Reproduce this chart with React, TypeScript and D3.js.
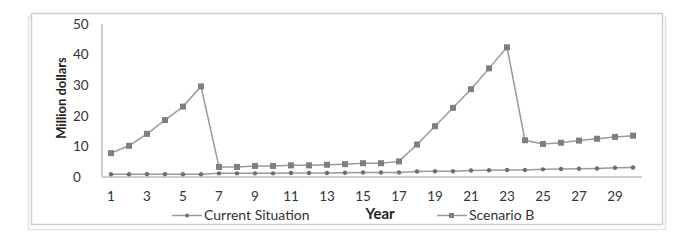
import React, { useEffect, useRef } from 'react';
import * as d3 from 'd3';

const years = d3.range(1, 31);
const currentSituation = [0.9, 0.9, 0.9, 0.9, 0.9, 0.9, 1.2, 1.2, 1.2, 1.2, 1.3, 1.3, 1.3, 1.4, 1.5,
  1.5, 1.5, 1.8, 1.9, 1.9, 2.1, 2.2, 2.3, 2.3, 2.5, 2.6, 2.7, 2.8, 3.0, 3.1];
const scenarioB = [7.8, 10.2, 14.1, 18.6, 23.0, 29.6, 3.3, 3.3, 3.6, 3.6, 3.8, 3.8, 4.0, 4.2, 4.5,
  4.5, 5.1, 10.6, 16.6, 22.6, 28.7, 35.5, 42.4, 12.0, 10.8, 11.2, 11.9, 12.5, 13.1, 13.5];
const yTicks = [0, 10, 20, 30, 40, 50];
const xTickLabels = years.filter(y => y % 2 === 1);

const font = 'Lato, "Open Sans", sans-serif';

export default function App() {
  const ref = useRef<SVGSVGElement>(null);

  useEffect(() => {
    const width = 677;
    const height = 245;
    const svg = d3.select(ref.current);
    svg.selectAll('*').remove();

    // chart frame with a light shadow
    svg.append('rect').attr('x', 28.5).attr('y', 16.5).attr('width', 637).attr('height', 213)
      .attr('fill', 'none').attr('stroke', '#e4e4e4').attr('stroke-width', 1.5);
    svg.append('rect').attr('x', 31.5).attr('y', 13.5).attr('width', 631).attr('height', 211)
      .attr('fill', '#fff').attr('stroke', '#cfcfcf').attr('stroke-width', 1.5);

    const x = d3.scaleBand<number>().domain(years).range([102, 642]);
    const y = d3.scaleLinear().domain([0, 50]).range([177, 24]);
    const cx = (d: number) => (x(d) as number) + x.bandwidth() / 2;

    // axes
    svg.append('line').attr('x1', 102).attr('x2', 102).attr('y1', y(50)).attr('y2', y(0))
      .attr('stroke', '#bdbdbd').attr('stroke-width', 1.5);
    svg.append('line').attr('x1', 102).attr('x2', 642).attr('y1', y(0)).attr('y2', y(0))
      .attr('stroke', '#bdbdbd').attr('stroke-width', 1.5);

    svg.append('g').selectAll('text').data(yTicks).enter().append('text')
      .attr('x', 73).attr('y', d => y(d)).attr('dy', '0.35em')
      .attr('font-family', font).attr('font-size', 13.5).attr('fill', '#333')
      .text(d => d);

    svg.append('g').selectAll('text').data(xTickLabels).enter().append('text')
      .attr('x', d => cx(d)).attr('y', 196).attr('dy', '0.35em')
      .attr('text-anchor', 'middle')
      .attr('font-family', font).attr('font-size', 13.5).attr('fill', '#333')
      .text(d => d);

    svg.append('text').attr('transform', 'translate(61,98) rotate(-90)')
      .attr('text-anchor', 'middle').attr('dy', '0.35em')
      .attr('font-family', font).attr('font-size', 13).attr('font-weight', 'bold').attr('fill', '#222')
      .text('Million dollars');

    svg.append('text').attr('x', 380).attr('y', 214).attr('dy', '0.35em')
      .attr('text-anchor', 'middle')
      .attr('font-family', font).attr('font-size', 15).attr('font-weight', 'bold').attr('fill', '#222')
      .text('Year');

    const line = d3.line<number>().x((d, i) => cx(years[i])).y(d => y(d));

    const series = [
      { name: 'Current Situation', values: currentSituation, marker: 'dot', lx: 172 },
      { name: 'Scenario B', values: scenarioB, marker: 'square', lx: 437 },
    ];

    series.forEach(s => {
      svg.append('path').datum(s.values).attr('d', line)
        .attr('fill', 'none').attr('stroke', '#9a9a9a').attr('stroke-width', 1.5);
      const g = svg.append('g');
      if (s.marker === 'square') {
        g.selectAll('rect').data(s.values).enter().append('rect')
          .attr('x', (d, i) => cx(years[i]) - 3).attr('y', d => y(d) - 3)
          .attr('width', 6).attr('height', 6).attr('fill', '#7f7f7f');
      } else {
        g.selectAll('circle').data(s.values).enter().append('circle')
          .attr('cx', (d, i) => cx(years[i])).attr('cy', d => y(d))
          .attr('r', 2.2).attr('fill', '#6f6f6f');
      }

      // legend entry
      const ly = 215.5;
      svg.append('line').attr('x1', s.lx).attr('x2', s.lx + 30).attr('y1', ly).attr('y2', ly)
        .attr('stroke', '#9a9a9a').attr('stroke-width', 1.5);
      if (s.marker === 'square') {
        svg.append('rect').attr('x', s.lx + 12).attr('y', ly - 2.5).attr('width', 5).attr('height', 5)
          .attr('fill', '#7f7f7f');
      } else {
        svg.append('circle').attr('cx', s.lx + 15).attr('cy', ly).attr('r', 2).attr('fill', '#6f6f6f');
      }
      svg.append('text').attr('x', s.lx + 32).attr('y', ly).attr('dy', '0.35em')
        .attr('font-family', font).attr('font-size', 14).attr('fill', '#333')
        .text(s.name);
    });

    svg.attr('width', width).attr('height', height);
  }, []);

  return (
    <svg ref={ref} width={677} height={245}
      style={{ position: 'absolute', left: 0, top: 0, background: '#fff' }} />
  );
}
